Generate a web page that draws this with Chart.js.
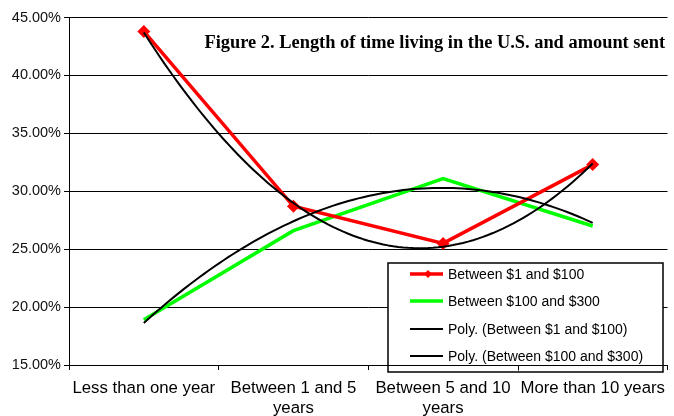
<!DOCTYPE html>
<html>
<head>
<meta charset="utf-8">
<script src="https://cdn.jsdelivr.net/npm/chart.js@4.4.1/dist/chart.umd.min.js"></script>
<style>
  html, body { margin: 0; padding: 0; background: #fff; overflow: hidden; }
  #wrap { width: 674px; height: 416px; position: relative; }
</style>
</head>
<body>
<div id="wrap"><canvas id="c" width="674" height="416"></canvas></div>
<script>
// Share of remitters by length of stay in the U.S., split by amount sent
const categories = [
  'Less than one year',
  ['Between 1 and 5', 'years'],
  ['Between 5 and 10', 'years'],
  'More than 10 years'
];
const seriesNames = ['Between $1 and $100', 'Between $100 and $300'];
const trendNames = ['Poly. (Between $1 and $100)', 'Poly. (Between $100 and $300)'];
const amount1to100 = [43.8, 28.7, 25.5, 32.3];
const amount100to300 = [18.9, 26.6, 31.1, 27.0];
const yTickValues = [15, 20, 25, 30, 35, 40, 45];
const titleText = 'Figure 2. Length of time living in the U.S. and amount sent';

const RED = '#ff0000';
const GREEN = '#00ff00';
const SANS = '"Liberation Sans", Arial, sans-serif';

// Least-squares quadratic (order 2 polynomial) through points (i, vals[i])
function fitQuadratic(vals) {
  const n = vals.length;
  let s = [0, 0, 0, 0, 0], t = [0, 0, 0];
  for (let i = 0; i < n; i++) {
    let p = 1;
    for (let k = 0; k < 5; k++) { s[k] += p; p *= i; }
    t[0] += vals[i]; t[1] += vals[i] * i; t[2] += vals[i] * i * i;
  }
  const A = [[s[0], s[1], s[2], t[0]], [s[1], s[2], s[3], t[1]], [s[2], s[3], s[4], t[2]]];
  for (let c = 0; c < 3; c++) {
    for (let r = c + 1; r < 3; r++) {
      const f = A[r][c] / A[c][c];
      for (let k = c; k < 4; k++) A[r][k] -= f * A[c][k];
    }
  }
  const x = [0, 0, 0];
  for (let r = 2; r >= 0; r--) {
    let v = A[r][3];
    for (let k = r + 1; k < 3; k++) v -= A[r][k] * x[k];
    x[r] = v / A[r][r];
  }
  return x;
}

// Polynomial trendlines drawn over the data lines
const trendlinePlugin = {
  id: 'trendlines',
  afterDatasetsDraw(chart) {
    const { ctx, scales: { x, y } } = chart;
    [amount1to100, amount100to300].forEach(vals => {
      const c = fitQuadratic(vals);
      const last = vals.length - 1;
      ctx.save();
      ctx.beginPath();
      for (let i = 0; i <= 90; i++) {
        const t = (i / 90) * last;
        const v = c[0] + c[1] * t + c[2] * t * t;
        const px = x.getPixelForValue(t), py = y.getPixelForValue(v);
        if (i === 0) ctx.moveTo(px, py); else ctx.lineTo(px, py);
      }
      ctx.strokeStyle = '#000';
      ctx.lineWidth = 2;
      ctx.lineJoin = 'round';
      ctx.stroke();
      ctx.restore();
    });
  }
};

// Title and boxed legend inside the plot area
const overlayPlugin = {
  id: 'overlay',
  afterDraw(chart) {
    const { ctx, chartArea, scales: { x } } = chart;
    ctx.save();
    ctx.font = 'bold 18.4px "Liberation Serif", "Times New Roman", serif';
    ctx.fillStyle = '#000';
    ctx.textAlign = 'right';
    ctx.textBaseline = 'alphabetic';
    ctx.fillText(titleText, 665, 48);

    const bx = 388, by = 263, bw = 275, bh = 109;
    ctx.fillStyle = '#fff';
    ctx.fillRect(bx, by, bw, bh);
    // axis line and tick mark running through the box
    ctx.strokeStyle = '#000';
    ctx.lineWidth = 1;
    ctx.beginPath();
    const ay = Math.round(chartArea.bottom) + 0.5;
    ctx.moveTo(bx, ay); ctx.lineTo(bx + bw, ay);
    const tx = Math.round(x.getPixelForValue(2.5)) + 0.5;
    ctx.moveTo(tx, ay); ctx.lineTo(tx, ay + 5);
    ctx.stroke();
    ctx.lineWidth = 1.5;
    ctx.strokeRect(bx, by, bw, bh);

    const rows = [
      { name: seriesNames[0], color: RED, width: 3.5, marker: true },
      { name: seriesNames[1], color: GREEN, width: 3.5 },
      { name: trendNames[0], color: '#000', width: 2 },
      { name: trendNames[1], color: '#000', width: 2 }
    ];
    const rowY = [274, 301, 329, 356];
    ctx.font = '14px ' + SANS;
    ctx.textAlign = 'left';
    ctx.textBaseline = 'middle';
    rows.forEach((r, i) => {
      const yy = rowY[i];
      ctx.beginPath();
      ctx.strokeStyle = r.color;
      ctx.lineWidth = r.width;
      ctx.moveTo(410, yy); ctx.lineTo(443, yy);
      ctx.stroke();
      if (r.marker) {
        ctx.beginPath();
        ctx.fillStyle = r.color;
        ctx.moveTo(428, yy - 4); ctx.lineTo(432, yy); ctx.lineTo(428, yy + 4); ctx.lineTo(424, yy);
        ctx.closePath();
        ctx.fill();
      }
      ctx.fillStyle = '#000';
      ctx.fillText(r.name, 448, yy + 1);
    });
    ctx.restore();
  }
};

new Chart(document.getElementById('c'), {
  type: 'line',
  data: {
    labels: categories,
    datasets: [
      {
        label: seriesNames[0],
        data: amount1to100,
        borderColor: RED,
        backgroundColor: RED,
        borderWidth: 3.5,
        pointStyle: 'rectRot',
        pointRadius: 6.5,
        pointBorderWidth: 0,
        pointBackgroundColor: RED,
        tension: 0
      },
      {
        label: seriesNames[1],
        data: amount100to300,
        borderColor: GREEN,
        backgroundColor: GREEN,
        borderWidth: 3.5,
        pointRadius: 0,
        tension: 0
      }
    ]
  },
  options: {
    responsive: false,
    animation: false,
    devicePixelRatio: 1,
    layout: { padding: { top: 17.5, right: 0, bottom: 0, left: 0 } },
    plugins: { legend: { display: false }, title: { display: false }, tooltip: { enabled: false } },
    scales: {
      x: {
        offset: true,
        grid: { display: true, drawOnChartArea: false, drawTicks: true, tickLength: 5, offset: true, color: '#000' },
        border: { display: true, color: '#000', width: 1 },
        ticks: { autoSkip: false, maxRotation: 0, minRotation: 0, padding: 8, color: '#000', font: { family: SANS, size: 16.8 } },
        afterFit(scale) { scale.height = 51; }
      },
      y: {
        min: 15,
        max: 45,
        afterBuildTicks(scale) { scale.ticks = yTickValues.map(v => ({ value: v })); },
        grid: { color: '#000', lineWidth: 1, drawTicks: true, tickLength: 5 },
        border: { display: true, color: '#000', width: 1 },
        ticks: { padding: 3, color: '#111', font: { family: SANS, size: 14.5 }, callback: v => v.toFixed(2) + '%' },
        afterFit(scale) { scale.width = 69; }
      }
    }
  },
  plugins: [trendlinePlugin, overlayPlugin]
});
</script>
</body>
</html>
